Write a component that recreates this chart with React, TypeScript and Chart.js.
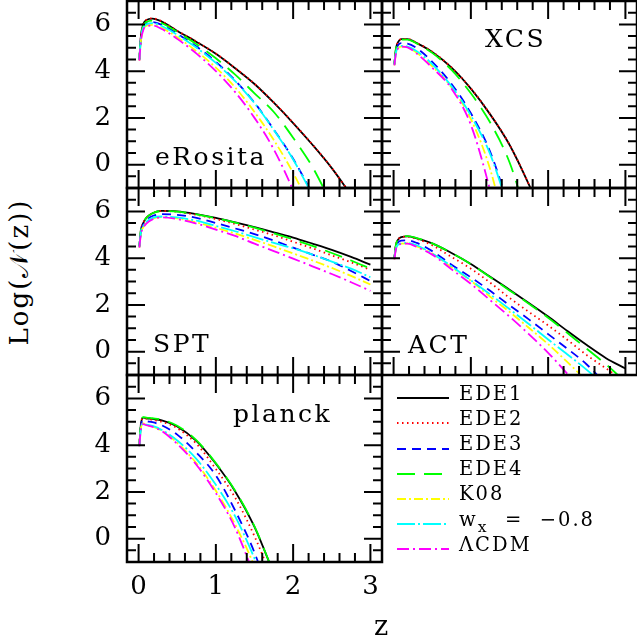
import { useEffect, useRef } from "react"
import { Chart, registerables } from "chart.js"

Chart.register(...registerables)

// redshift grid the curves are sampled on
const Z = [0.01, 0.03, 0.06, 0.1, 0.18, 0.3, 0.5, 0.75, 1, 1.25, 1.5, 1.75, 2, 2.25, 2.5, 2.75, 3]

const SERIES = ["EDE1", "EDE2", "EDE3", "EDE4", "K08", "wx = -0.8", "ΛCDM"]

// Log N(z) per survey, rows in SERIES order
const EROSITA = [
  [4.5, 5.5, 6.0, 6.18, 6.25, 6.12, 5.72, 5.25, 4.74, 4.12, 3.45, 2.65, 1.78, 0.85, -0.15, -1.3],
  [4.5, 5.5, 6.0, 6.19, 6.26, 6.13, 5.73, 5.26, 4.75, 4.13, 3.46, 2.66, 1.79, 0.86, -0.14, -1.3],
  [4.5, 5.4, 5.88, 6.05, 6.1, 5.98, 5.6, 5.05, 4.4, 3.6, 2.65, 1.5, 0.25, -1.25],
  [4.5, 5.45, 5.93, 6.1, 6.16, 6.05, 5.68, 5.15, 4.55, 3.85, 3.05, 2.25, 1.15, -0.1, -1.7],
  [4.45, 5.3, 5.78, 5.94, 5.98, 5.85, 5.45, 4.85, 4.15, 3.3, 2.25, 1.05, -0.35, -2.0],
  [4.48, 5.38, 5.85, 6.0, 6.05, 5.93, 5.55, 5.0, 4.35, 3.57, 2.63, 1.48, 0.22, -1.3],
  [4.45, 5.28, 5.75, 5.92, 5.95, 5.8, 5.38, 4.75, 4.0, 3.1, 2.0, 0.65, -1.1, -3.2],
]

const XCS = [
  [4.3, 4.95, 5.25, 5.37, 5.37, 5.2, 4.82, 4.15, 3.25, 2.15, 0.85, -0.85, -2.8],
  [4.3, 4.95, 5.25, 5.37, 5.38, 5.21, 4.83, 4.16, 3.26, 2.16, 0.86, -0.84, -2.8],
  [4.28, 4.85, 5.12, 5.2, 5.18, 4.98, 4.4, 3.45, 2.2, 0.55, -1.9],
  [4.3, 4.93, 5.23, 5.35, 5.35, 5.18, 4.78, 4.05, 3.05, 1.8, 0.1, -2.5],
  [4.25, 4.75, 4.98, 5.05, 5.02, 4.78, 4.2, 3.3, 1.95, -0.2, -3.5],
  [4.28, 4.8, 5.02, 5.08, 5.05, 4.85, 4.3, 3.35, 2.1, 0.45, -2.0],
  [4.25, 4.75, 4.98, 5.05, 5.02, 4.75, 4.15, 3.25, 1.7, -1.1, -4.5],
]

const SPT = [
  [4.5, 5.2, 5.5, 5.72, 5.92, 6.02, 6.0, 5.88, 5.72, 5.53, 5.33, 5.1, 4.88, 4.62, 4.35, 4.05, 3.72],
  [4.5, 5.2, 5.5, 5.72, 5.92, 6.02, 5.98, 5.85, 5.67, 5.46, 5.22, 4.98, 4.7, 4.42, 4.12, 3.82, 3.5],
  [4.5, 5.15, 5.42, 5.62, 5.8, 5.88, 5.85, 5.72, 5.5, 5.27, 5.03, 4.75, 4.45, 4.15, 3.85, 3.45, 3.02],
  [4.5, 5.2, 5.5, 5.72, 5.92, 6.01, 5.99, 5.87, 5.71, 5.52, 5.3, 5.06, 4.8, 4.52, 4.22, 3.9, 3.55],
  [4.45, 5.05, 5.32, 5.5, 5.68, 5.75, 5.7, 5.53, 5.3, 5.05, 4.78, 4.5, 4.2, 3.9, 3.58, 3.24, 2.87],
  [4.48, 5.1, 5.37, 5.55, 5.72, 5.78, 5.74, 5.6, 5.38, 5.15, 4.9, 4.65, 4.42, 4.15, 3.85, 3.55, 3.18],
  [4.45, 5.03, 5.3, 5.48, 5.66, 5.74, 5.67, 5.48, 5.22, 4.95, 4.62, 4.3, 3.98, 3.65, 3.32, 2.97, 2.6],
]

const ACT = [
  [4.0, 4.55, 4.8, 4.9, 4.93, 4.85, 4.63, 4.22, 3.75, 3.2, 2.65, 2.08, 1.5, 0.88, 0.28, -0.28, -0.72],
  [4.0, 4.55, 4.8, 4.9, 4.92, 4.82, 4.55, 4.05, 3.55, 2.95, 2.3, 1.7, 1.12, 0.5, -0.15, -0.72, -1.3],
  [4.0, 4.45, 4.68, 4.75, 4.76, 4.65, 4.3, 3.72, 3.18, 2.6, 1.98, 1.38, 0.75, 0.12, -0.55, -1.4],
  [4.0, 4.56, 4.81, 4.91, 4.94, 4.86, 4.63, 4.22, 3.74, 3.18, 2.62, 2.05, 1.45, 0.8, 0.12, -0.55, -1.3],
  [3.95, 4.4, 4.58, 4.62, 4.63, 4.5, 4.2, 3.6, 3.03, 2.35, 1.7, 1.02, 0.32, -0.45, -1.25],
  [3.98, 4.4, 4.58, 4.62, 4.65, 4.55, 4.2, 3.65, 3.05, 2.45, 1.82, 1.18, 0.52, -0.12, -0.78, -1.5],
  [3.95, 4.38, 4.56, 4.6, 4.62, 4.48, 4.15, 3.52, 2.9, 2.2, 1.5, 0.75, -0.05, -0.95, -1.9],
]

const PLANCK = [
  [4.0, 4.9, 5.18, 5.15, 5.12, 5.06, 4.8, 4.17, 3.2, 2.02, 0.5, -1.5],
  [4.0, 4.9, 5.15, 5.13, 5.08, 5.0, 4.72, 4.05, 2.98, 1.75, 0.1, -1.9],
  [4.0, 4.8, 5.05, 5.02, 4.98, 4.85, 4.45, 3.68, 2.7, 1.2, -0.6, -3.0],
  [4.0, 4.92, 5.2, 5.18, 5.15, 5.09, 4.83, 4.2, 3.23, 2.05, 0.52, -1.5],
  [3.95, 4.72, 4.93, 4.86, 4.8, 4.62, 4.1, 3.22, 2.05, 0.6, -1.2, -3.5],
  [3.95, 4.7, 4.92, 4.88, 4.82, 4.65, 4.2, 3.4, 2.3, 0.95, -0.85, -3.0],
  [3.95, 4.7, 4.9, 4.85, 4.78, 4.6, 4.05, 3.15, 1.95, 0.45, -1.6],
]

// axes
const X_MIN = -0.15
const X_MAX = 3.15
const Y_MIN = -1
const Y_MAX = 7
const X_LABELS = [0, 1, 2, 3]
const Y_LABELS = [0, 2, 4, 6]
const X_TICKS = [0, 0.2, 0.4, 0.6, 0.8, 1, 1.2, 1.4, 1.6, 1.8, 2, 2.2, 2.4, 2.6, 2.8, 3]
const Y_TICKS = [-0.5, 0, 0.5, 1, 1.5, 2, 2.5, 3, 3.5, 4, 4.5, 5, 5.5, 6, 6.5]

const STYLES = [
  { color: "#000000", dash: [] as number[] },
  { color: "#ff0000", dash: [1.5, 3.5] },
  { color: "#0000ff", dash: [9, 6] },
  { color: "#00ff00", dash: [18, 9] },
  { color: "#ffff00", dash: [9, 3, 2, 3] },
  { color: "#00ffff", dash: [18, 3, 2, 3] },
  { color: "#ff00ff", dash: [12, 4, 2, 4] },
]

const FONT = "'DejaVu Serif', serif"
const COL_LEFT = [127, 382]
const ROW_TOP = [1, 188, 375]
const PANEL_W = 255
const PANEL_H = 187
const PAD = 40
const Y_AXIS_W = 60
const X_AXIS_H = 50

// frame and inward ticks on all four sides
const framePlugin = {
  id: "frame",
  afterDatasetsDraw(chart: Chart) {
    const { ctx, chartArea: a } = chart
    const x = chart.scales.x
    const y = chart.scales.y
    ctx.save()
    ctx.strokeStyle = "#000"
    ctx.lineWidth = 2
    ctx.beginPath()
    X_TICKS.forEach((v) => {
      const px = x.getPixelForValue(v)
      const len = X_LABELS.includes(v) ? 18 : 9
      ctx.moveTo(px, a.bottom)
      ctx.lineTo(px, a.bottom - len)
      ctx.moveTo(px, a.top)
      ctx.lineTo(px, a.top + len)
    })
    Y_TICKS.forEach((v) => {
      const py = y.getPixelForValue(v)
      const len = Y_LABELS.includes(v) ? 18 : 9
      ctx.moveTo(a.left, py)
      ctx.lineTo(a.left + len, py)
      ctx.moveTo(a.right, py)
      ctx.lineTo(a.right - len, py)
    })
    ctx.stroke()
    ctx.lineWidth = 2.5
    ctx.strokeRect(a.left, a.top, a.right - a.left, a.bottom - a.top)
    ctx.restore()
  },
}

type PanelProps = {
  rows: number[][]
  col: number
  row: number
  yLabels: boolean
  xLabels: boolean
}

function Panel({ rows, col, row, yLabels, xLabels }: PanelProps) {
  const canvasRef = useRef<HTMLCanvasElement>(null)
  const chartInstance = useRef<Chart | null>(null)

  const padLeft = yLabels ? Y_AXIS_W : PAD
  const padBottom = xLabels ? X_AXIS_H : PAD

  useEffect(() => {
    if (!canvasRef.current) return
    if (chartInstance.current) chartInstance.current.destroy()

    const tickFont = { family: FONT, size: 26, lineHeight: 1 }

    chartInstance.current = new Chart(canvasRef.current, {
      type: "line",
      data: {
        datasets: rows.map((vals, i) => ({
          label: SERIES[i],
          data: vals.map((v, j) => ({ x: Z[j], y: v })),
          borderColor: STYLES[i].color,
          borderDash: STYLES[i].dash,
          borderWidth: 1.8,
          pointRadius: 0,
          fill: false,
          cubicInterpolationMode: "monotone" as const,
          order: rows.length - i,
        })),
      },
      options: {
        responsive: true,
        maintainAspectRatio: false,
        animation: false,
        events: [],
        layout: {
          padding: { left: yLabels ? 0 : PAD, right: PAD, top: PAD, bottom: xLabels ? 0 : PAD },
        },
        plugins: { legend: { display: false }, tooltip: { enabled: false } },
        scales: {
          x: {
            type: "linear",
            min: X_MIN,
            max: X_MAX,
            display: xLabels,
            grid: { display: false, drawTicks: false },
            border: { display: false },
            afterBuildTicks: (s: any) => {
              s.ticks = X_LABELS.map((v) => ({ value: v }))
            },
            afterFit: (s: any) => {
              s.height = xLabels ? X_AXIS_H : 0
            },
            ticks: {
              autoSkip: false,
              maxRotation: 0,
              padding: 12,
              color: "#000",
              font: tickFont,
              callback: (v: any) => String(v),
            },
          },
          y: {
            type: "linear",
            min: Y_MIN,
            max: Y_MAX,
            display: yLabels,
            grid: { display: false, drawTicks: false },
            border: { display: false },
            afterBuildTicks: (s: any) => {
              s.ticks = Y_LABELS.map((v) => ({ value: v }))
            },
            afterFit: (s: any) => {
              s.width = yLabels ? Y_AXIS_W : 0
            },
            ticks: {
              autoSkip: false,
              padding: 16,
              color: "#000",
              font: tickFont,
              callback: (v: any) => String(v),
            },
          },
        },
      },
      plugins: [framePlugin],
    })

    return () => {
      if (chartInstance.current) {
        chartInstance.current.destroy()
        chartInstance.current = null
      }
    }
  }, [])

  return (
    <div
      style={{
        position: "absolute",
        left: COL_LEFT[col] - padLeft,
        top: ROW_TOP[row] - PAD,
        width: PANEL_W + padLeft + PAD,
        height: PANEL_H + PAD + padBottom,
      }}
    >
      <canvas ref={canvasRef} />
    </div>
  )
}

// place text by its baseline (DejaVu Serif, line-height 1)
function Label({ x, base, size, text }: { x: number; base: number; size: number; text: string }) {
  return (
    <div
      style={{
        position: "absolute",
        left: x,
        top: base - 0.846 * size,
        fontFamily: FONT,
        fontSize: size,
        lineHeight: 1,
        letterSpacing: 2.5,
        whiteSpace: "pre",
        color: "#000",
      }}
    >
      {text}
    </div>
  )
}

function LegendText({ i }: { i: number }) {
  if (i === 5) {
    return (
      <>
        w<sub style={{ fontSize: "0.8em", verticalAlign: "-0.4em", lineHeight: 0 }}>x</sub>
        {"  =  \u22120.8"}
      </>
    )
  }
  return <>{SERIES[i]}</>
}

export default function App() {
  return (
    <div
      style={{
        position: "absolute",
        left: 0,
        top: 0,
        width: 637,
        height: 637,
        overflow: "hidden",
        background: "#fff",
      }}
    >
      <Panel rows={EROSITA} col={0} row={0} yLabels xLabels={false} />
      <Panel rows={XCS} col={1} row={0} yLabels={false} xLabels={false} />
      <Panel rows={SPT} col={0} row={1} yLabels xLabels={false} />
      <Panel rows={ACT} col={1} row={1} yLabels={false} xLabels={false} />
      <Panel rows={PLANCK} col={0} row={2} yLabels xLabels />

      <Label x={155} base={165} size={25} text="eRosita" />
      <Label x={485} base={47} size={25} text="XCS" />
      <Label x={153} base={352} size={25} text="SPT" />
      <Label x={408} base={353} size={25} text="ACT" />
      <Label x={233} base={422} size={25} text="planck" />

      {/* legend */}
      {STYLES.map((s, i) => {
        const ly = 398.3 + 25.15 * i
        return (
          <div key={SERIES[i]}>
            <svg
              width={52}
              height={6}
              style={{ position: "absolute", left: 397, top: ly - 3 }}
            >
              <line
                x1={0}
                y1={3}
                x2={52}
                y2={3}
                stroke={s.color}
                strokeWidth={1.8}
                strokeDasharray={s.dash.length ? s.dash.join(" ") : undefined}
              />
            </svg>
            <div
              style={{
                position: "absolute",
                left: 459,
                top: ly + 2 - 0.846 * 19.5,
                fontFamily: FONT,
                fontSize: 19.5,
                lineHeight: 1,
                letterSpacing: 2,
                whiteSpace: "pre",
                color: "#000",
              }}
            >
              <LegendText i={i} />
            </div>
          </div>
        )
      })}

      {/* axis titles */}
      <div
        style={{
          position: "absolute",
          left: 19,
          top: 272,
          transform: "translate(-50%, -50%) rotate(-90deg)",
          fontFamily: FONT,
          fontSize: 26,
          lineHeight: 1,
          letterSpacing: 2,
          whiteSpace: "nowrap",
          color: "#000",
        }}
      >
        Log(𝒩(z))
      </div>
      <Label x={374} base={635} size={27} text="z" />
    </div>
  )
}
